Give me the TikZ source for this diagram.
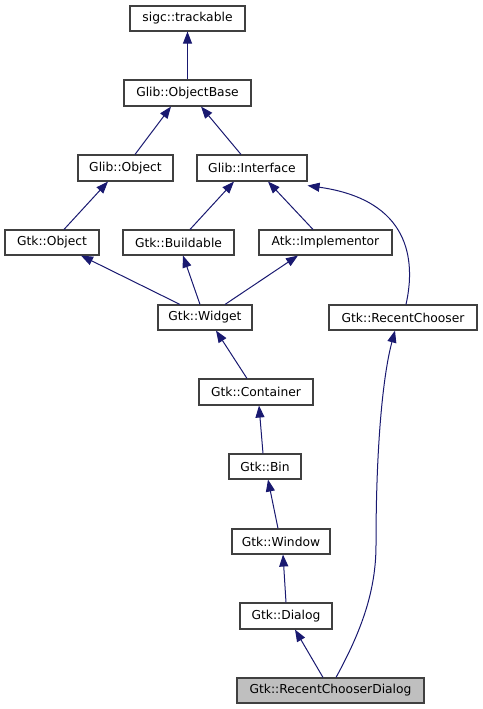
\documentclass[tikz,border=0pt]{standalone}
\usepackage{fontspec}
\setmainfont{DejaVu Sans}
\usetikzlibrary{arrows.meta}
\definecolor{edgeblue}{HTML}{191970}
\definecolor{boxline}{HTML}{404040}
\begin{document}
\begin{tikzpicture}[x=1pt,y=-1pt,
  cls/.style={draw=boxline,line width=1.1pt,fill=white,minimum height=25pt,inner sep=0pt,font=\fontsize{12.3}{14}\selectfont},
  edge/.style={draw=edgeblue,line width=1pt,-{Triangle[length=12pt,width=9pt]}}]
\useasboundingbox (0,0) rectangle (482,709);
\node[cls,minimum width=115pt] (trk) at (187.5,18.5) {sigc::trackable};
\node[cls,minimum width=127pt,minimum height=26pt] (ob) at (187.5,93) {Glib::ObjectBase};
\node[cls,minimum width=95pt,minimum height=26pt] (gobj) at (125.5,168) {Glib::Object};
\node[cls,minimum width=110pt,minimum height=26pt] (gint) at (252,168) {Glib::Interface};
\node[cls,minimum width=94pt] (gtko) at (52,242.5) {Gtk::Object};
\node[cls,minimum width=111pt] (bld) at (178.5,242.5) {Gtk::Buildable};
\node[cls,minimum width=133pt] (atk) at (325.5,242.5) {Atk::Implementor};
\node[cls,minimum width=94pt] (wid) at (205,317.5) {Gtk::Widget};
\node[cls,minimum width=148pt] (rc) at (403,317.5) {Gtk::RecentChooser};
\node[cls,minimum width=114pt,minimum height=26pt] (cont) at (256,392) {Gtk::Container};
\node[cls,minimum width=72pt] (bin) at (265,466.5) {Gtk::Bin};
\node[cls,minimum width=98pt] (win) at (281,541.5) {Gtk::Window};
\node[cls,minimum width=92pt,minimum height=26pt] (dlg) at (286,616) {Gtk::Dialog};
\node[cls,minimum width=187pt,fill={rgb,255:red,191;green,191;blue,191}] (rcd) at (330.5,690.5) {Gtk::RecentChooserDialog};

\draw[edge] (ob.north) -- (trk.south);
\draw[edge] ([xshift=9.5pt]gobj.north) -- ([xshift=-16.5pt]ob.south);
\draw[edge] ([xshift=-11pt]gint.north) -- ([xshift=13.5pt]ob.south);
\draw[edge] ([xshift=12pt]gtko.north) -- ([xshift=-17.5pt]gobj.south);
\draw[edge] ([xshift=11.5pt]bld.north) -- ([xshift=-18pt]gint.south);
\draw[edge] ([xshift=-12.5pt]atk.north) -- ([xshift=16pt]gint.south);
\draw[edge] ([xshift=3pt]rc.north) .. controls (416,260) and (410,200) .. ([yshift=-4pt]gint.south east);
\draw[edge] ([xshift=-25pt]wid.north) -- ([xshift=29pt]gtko.south);
\draw[edge] ([xshift=-5pt]wid.north) -- ([xshift=4.5pt]bld.south);
\draw[edge] ([xshift=20pt]wid.north) -- ([xshift=-27.5pt]atk.south);
\draw[edge] ([xshift=-9pt]cont.north) -- ([xshift=11pt]wid.south);
\draw[edge] ([xshift=-2pt]bin.north) -- ([xshift=3pt]cont.south);
\draw[edge] ([xshift=-3pt]win.north) -- ([xshift=3pt]bin.south);
\draw[edge] (dlg.north) -- ([xshift=2pt]win.south);
\draw[edge] ([xshift=-7.5pt]rcd.north) -- ([xshift=9pt]dlg.south);
\draw[edge] ([xshift=5.5pt]rcd.north) .. controls (362,630) and (376,590) .. (376,545) .. controls (376,445) and (383,375) .. ([xshift=-8pt]rc.south);
\end{tikzpicture}
\end{document}
